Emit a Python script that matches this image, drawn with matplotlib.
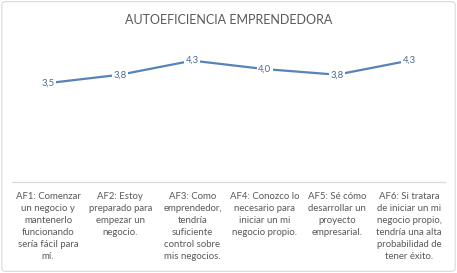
import matplotlib.pyplot as plt
from matplotlib.patches import FancyBboxPatch

# datos del gráfico
categorias = [
    "AF1: Comenzar\nun negocio y\nmantenerlo\nfuncionando\nsería fácil para\nmí.",
    "AF2: Estoy\npreparado para\nempezar un\nnegocio.",
    "AF3: Como\nemprendedor,\ntendría\nsuficiente\ncontrol sobre\nmis negocios.",
    "AF4: Conozco lo\nnecesario para\niniciar un mi\nnegocio propio.",
    "AF5: Sé cómo\ndesarrollar un\nproyecto\nempresarial.",
    "AF6: Si tratara\nde iniciar un mi\nnegocio propio,\ntendría una alta\nprobabilidad de\ntener éxito.",
]
valores = [3.5, 3.8, 4.3, 4.0, 3.8, 4.3]
etiquetas = ["3,5", "3,8", "4,3", "4,0", "3,8", "4,3"]

plt.rcParams['font.family'] = ['Lato', 'DejaVu Sans']

fig = plt.figure(figsize=(4.57, 2.73), dpi=100)
ax = fig.add_axes([0.026, 0.335, 0.948, 0.515])

# borde del área del gráfico
borde = FancyBboxPatch((0.004, 0.006), 0.992, 0.988, boxstyle="round,pad=0,rounding_size=0.01",
                       transform=fig.transFigure, fill=False, edgecolor='#d9d9d9', linewidth=0.8)
fig.patches.append(borde)

x = list(range(len(valores)))
ax.plot(x, valores, color='#5683b8', linewidth=1.6, solid_capstyle='round', zorder=2)

# etiquetas de datos centradas con fondo blanco
for xi, v, t in zip(x, valores, etiquetas):
    ax.text(xi, v, t, ha='center', va='center', fontsize=6.8, color='#4a6a94', zorder=3,
            bbox=dict(boxstyle='square,pad=0.15', facecolor='white', edgecolor='none'))

ax.set_xlim(-0.5, len(valores) - 0.5)
ax.set_ylim(0, 5)
ax.set_yticks([])
ax.set_xticks(x)
ax.set_xticklabels(categorias, fontsize=6.9, color='#595959', linespacing=1.42)
ax.tick_params(axis='x', length=0, pad=7.5)

for s in ['top', 'right', 'left']:
    ax.spines[s].set_visible(False)
ax.spines['bottom'].set_color('#d9d9d9')
ax.spines['bottom'].set_linewidth(0.9)

fig.text(0.5, 0.925, "AUTOEFICIENCIA EMPRENDEDORA", ha='center', va='center',
         fontsize=9, color='#595959')

fig.savefig('out.png', dpi=100)
